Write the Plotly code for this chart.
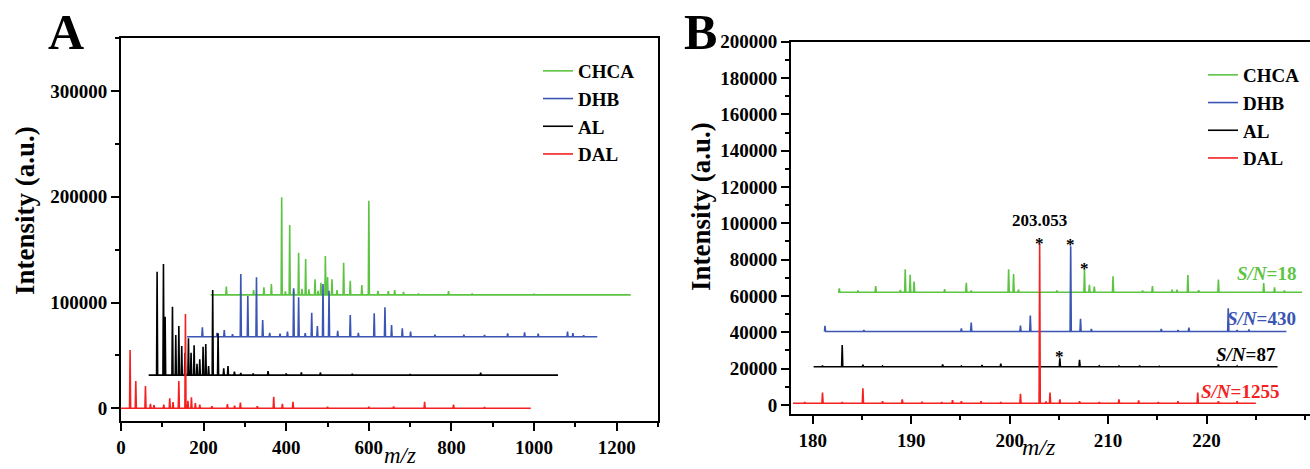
import numpy as np
import plotly.graph_objects as go

FONT = "Liberation Serif"

# ---------------- Panel A data (stacked spectra) ----------------
series_names = ["CHCA", "DHB", "AL", "DAL"]
colors = {"CHCA": "#5DC443", "DHB": "#3A55B3", "AL": "#000000", "DAL": "#F52020"}

a_baseline = {"CHCA": 107200, "DHB": 67600, "AL": 31400, "DAL": 0}
a_start = {"CHCA": 217, "DHB": 160, "AL": 67, "DAL": 0}
a_end = {"CHCA": 1234, "DHB": 1153, "AL": 1058, "DAL": 992}

a_chca_mz = [255, 290, 321, 346, 364, 389, 398, 408.4, 418, 430, 438, 447, 455, 469.7, 477,
             484, 494.8, 500, 510.8, 523, 539, 555, 583, 600, 622, 647, 662.5, 684, 720, 793, 850, 1000]
a_chca_int = [115000, 109500, 111800, 114300, 117400, 199400, 110500, 173200, 112000, 147000, 113000,
              141100, 112500, 121900, 111000, 118700, 143900, 124000, 121900, 111800, 137600, 120600,
              116500, 196200, 111100, 110800, 111800, 110000, 108500, 110800, 108400, 108300]

a_dhb_mz = [197, 232.5, 250, 270, 290, 307, 328, 343, 360, 385, 403, 418, 430, 446, 461.7, 475.4,
            489, 503.6, 524.6, 555, 574.6, 613, 639, 655, 681, 701, 760, 830, 880, 936, 977, 1010,
            1081, 1094, 1120]
a_dhb_int = [76500, 71400, 74000, 70000, 126900, 106100, 123800, 83400, 71400, 70500, 72400, 113400,
             104900, 71000, 90300, 77800, 117500, 111100, 73300, 88200, 71400, 89800, 95400, 78700,
             75600, 72400, 69500, 69500, 69300, 70800, 71700, 70500, 72600, 71000, 69000]

a_al_mz = [87.4, 102.8, 106.8, 124.6, 132.6, 140, 147, 155, 163.3, 169.6, 177, 184, 190.7, 198.7,
           205.2, 212, 222, 235, 248.7, 259, 274.6, 290, 320, 356, 400, 436.7, 482.7, 560, 700, 870.7]
a_al_int = [129100, 136400, 86600, 96000, 69300, 77800, 58900, 52500, 66200, 52500, 59500, 42000,
            46300, 58200, 60800, 40000, 111800, 70900, 37800, 40000, 34600, 33500, 33000, 35200, 33000,
            34000, 33800, 32500, 32300, 33600]

a_dal_mz = [22, 35.8, 59.2, 71.3, 80, 103.6, 118, 126, 140, 156, 162, 170.5, 180, 190.7, 220, 257.6,
            275, 289, 330, 369.7, 390.7, 416.4, 500, 600, 660, 735, 805, 880]
a_dal_int = [55100, 25800, 21100, 4100, 3000, 3500, 9400, 6000, 25800, 89100, 7000, 10400, 5000,
             3500, 2000, 4000, 2500, 5300, 2000, 11000, 4200, 6200, 1500, 1500, 1800, 6200, 3500, 1200]

a_peaks = {"CHCA": (a_chca_mz, a_chca_int), "DHB": (a_dhb_mz, a_dhb_int),
           "AL": (a_al_mz, a_al_int), "DAL": (a_dal_mz, a_dal_int)}

a_xticks = [0, 200, 400, 600, 800, 1000, 1200]
a_yticks = [0, 100000, 200000, 300000]

# ---------------- Panel B data (zoom 178-230) ----------------
b_baseline = {"CHCA": 62000, "DHB": 40400, "AL": 21000, "DAL": 900}
b_start = {"CHCA": 182.6, "DHB": 181.2, "AL": 180.1, "DAL": 178.0}
b_end = {"CHCA": 229.7, "DHB": 228.1, "AL": 227.2, "DAL": 225.0}

b_chca_mz = [182.7, 184.6, 186.4, 188.9, 189.4, 189.9, 190.3, 193.4, 195.6, 196.1, 199.9, 200.4,
             200.9, 204.8, 207.6, 208.1, 208.6, 210.5, 213.5, 214.5, 216.5, 217.0, 218.1, 219.2,
             221.2, 225.8, 226.9, 227.9]
b_chca_int = [64200, 63000, 65500, 63300, 74700, 71600, 67900, 63700, 67300, 63000, 74700, 72100,
              63500, 63000, 74700, 66100, 65100, 70800, 63000, 65500, 63500, 63500, 71500, 63200,
              69000, 67100, 64800, 63000]

b_dhb_mz = [181.25, 185.2, 195.1, 196.1, 201.1, 202.1, 206.2, 207.2, 208.3, 215.4, 217.1, 218.2,
            222.2, 223.1, 224.3]
b_dhb_int = [43500, 41300, 42200, 45300, 43700, 49200, 87300, 47400, 41800, 41800, 41300, 42600,
             53200, 41300, 41500]

b_al_mz = [181.0, 183.0, 185.1, 187.1, 189.1, 191.1, 193.2, 195.1, 197.2, 199.1, 201.1, 203.1,
           205.1, 207.1, 209.1, 211.1, 213.2, 215.2, 217.2, 219.1, 221.2, 223.1, 225.2]
b_al_int = [21600, 33000, 22200, 21400, 21300, 21300, 22300, 21400, 22000, 22700, 21400, 21400,
            25700, 24800, 21500, 21400, 21600, 21300, 21300, 21400, 22300, 21400, 21400]

b_dal_mz = [179.2, 181.0, 183.0, 185.1, 187.1, 189.1, 191.1, 193.1, 194.2, 195.1, 197.1, 199.1,
            201.1, 203.05, 203.7, 204.1, 205.1, 207.1, 209.1, 211.1, 213.1, 215.1, 217.1, 219.1,
            221.2, 223.1]
b_dal_int = [1600, 6800, 1500, 9200, 2100, 3000, 1700, 1600, 2600, 2100, 2100, 1600, 6100, 88600,
             1900, 6800, 3000, 2100, 1600, 3000, 2500, 1600, 2100, 6800, 2100, 2100]

b_peaks = {"CHCA": (b_chca_mz, b_chca_int), "DHB": (b_dhb_mz, b_dhb_int),
           "AL": (b_al_mz, b_al_int), "DAL": (b_dal_mz, b_dal_int)}

b_xticks = [180, 190, 200, 210, 220]
b_yticks = list(range(0, 200001, 20000))

# annotations of panel B
b_sn_labels = {"CHCA": "18", "DHB": "430", "AL": "87", "DAL": "1255"}
b_sn_x = {"CHCA": 229.3, "DHB": 229.3, "AL": 227.3, "DAL": 227.6}
b_sn_y = {"CHCA": 72600, "DHB": 47700, "AL": 27800, "DAL": 7300}
b_star_mz = [203.05, 206.2, 207.6, 205.1]
b_star_y = [90800, 90200, 76500, 28300]
b_peak_label = "203.053"
b_peak_label_mz = 203.0
b_peak_label_y = 101800


def sticks(start, end, base, mz, inten, hw):
    order = np.argsort(mz)
    xs, ys = [start], [base]
    for i in order:
        xs += [mz[i] - hw, mz[i], mz[i] + hw]
        ys += [base, inten[i], base]
    xs.append(end)
    ys.append(base)
    return xs, ys


fig = go.Figure()

for name in series_names:
    mz, it = a_peaks[name]
    xs, ys = sticks(a_start[name], a_end[name], a_baseline[name], mz, it, 1.3)
    fig.add_trace(go.Scatter(x=xs, y=ys, mode="lines", name="<b>" + name + "</b>", legend="legend",
                             line=dict(color=colors[name], width=1.6),
                             xaxis="x", yaxis="y", hoverinfo="skip"))

for name in series_names:
    mz, it = b_peaks[name]
    xs, ys = sticks(b_start[name], b_end[name], b_baseline[name], mz, it, 0.06)
    fig.add_trace(go.Scatter(x=xs, y=ys, mode="lines", name="<b>" + name + "</b>", legend="legend2",
                             line=dict(color=colors[name], width=1.6),
                             xaxis="x2", yaxis="y2", hoverinfo="skip"))

W, H = 1310, 469
tickfont = dict(family=FONT, size=19, color="black", weight="bold")
axis_common = dict(showgrid=False, zeroline=False, showline=True, linewidth=2, linecolor="black",
                   ticks="outside", ticklen=8, tickwidth=2, tickcolor="black", tickfont=tickfont)
legend_font = dict(family=FONT, size=19, color="black")

fig.update_layout(
    width=W, height=H,
    margin=dict(l=0, r=0, t=0, b=0, autoexpand=False),
    paper_bgcolor="white", plot_bgcolor="white",
    xaxis=dict(domain=[121 / W, 658 / W], range=[0, 1300], tickvals=a_xticks, mirror=True,
               minor=dict(dtick=100, ticklen=4, tickwidth=2, tickcolor="black", ticks="outside"),
               anchor="y", **axis_common),
    yaxis=dict(domain=[1 - 421 / H, 1 - 38 / H], range=[-12000, 350000], tickvals=a_yticks,
               tickformat="d", mirror=True,
               minor=dict(dtick=50000, ticklen=4, tickwidth=2, tickcolor="black", ticks="outside"),
               anchor="x", **axis_common),
    xaxis2=dict(domain=[791 / W, 1.0], range=[177.8, 230.5], tickvals=b_xticks, mirror=True,
                minor=dict(dtick=5, ticklen=4, tickwidth=2, tickcolor="black", ticks="outside"),
                anchor="y2", **axis_common),
    yaxis2=dict(domain=[1 - 414 / H, 1 - 41.7 / H], range=[-5000, 200000], tickvals=b_yticks,
                tickformat="d", mirror=False,
                minor=dict(dtick=10000, ticklen=4, tickwidth=2, tickcolor="black", ticks="outside"),
                anchor="x2", **axis_common),
    legend=dict(x=538 / W, y=1 - 52 / H, xanchor="left", yanchor="top", bgcolor="rgba(0,0,0,0)",
                font=legend_font, borderwidth=0, tracegroupgap=0),
    legend2=dict(x=1203 / W, y=1 - 56 / H, xanchor="left", yanchor="top", bgcolor="rgba(0,0,0,0)",
                 font=legend_font, borderwidth=0, tracegroupgap=0),
)

ann = []
C = dict(xanchor="center", yanchor="middle", showarrow=False)
# panel letters
ann.append(dict(text="<b>A</b>", x=66 / W, y=1 - 32 / H, xref="paper", yref="paper",
                font=dict(family=FONT, size=50, color="black"), **C))
ann.append(dict(text="<b>B</b>", x=700 / W, y=1 - 32 / H, xref="paper", yref="paper",
                font=dict(family=FONT, size=50, color="black"), **C))
# axis titles
for (xp, yp) in [(25, 211), (701, 207)]:
    ann.append(dict(text="<b>Intensity (a.u.)</b>", x=xp / W, y=1 - yp / H, xref="paper", yref="paper",
                    textangle=-90, font=dict(family=FONT, size=27, color="black"), **C))
for (xp, yp, fs) in [(400, 455, 23), (1039, 447, 24)]:
    ann.append(dict(text="<i>m/z</i>", x=xp / W, y=1 - yp / H, xref="paper", yref="paper",
                    font=dict(family=FONT, size=fs, color="black"), **C))
# panel B labels
ann.append(dict(text="<b>" + b_peak_label + "</b>", x=b_peak_label_mz, y=b_peak_label_y, xref="x2", yref="y2",
                font=dict(family=FONT, size=17, color="black"), **C))
for mzv, yv in zip(b_star_mz, b_star_y):
    ann.append(dict(text="<b>*</b>", x=mzv, y=yv, xref="x2", yref="y2", yshift=-3,
                    font=dict(family=FONT, size=17, color="black"), **C))
for name in series_names:
    ann.append(dict(text="<b><i>S/N</i>=" + b_sn_labels[name] + "</b>", x=b_sn_x[name], y=b_sn_y[name],
                    xref="x2", yref="y2", xanchor="right", yanchor="middle", showarrow=False,
                    font=dict(family=FONT, size=19, color=colors[name])))
fig.update_layout(annotations=ann)

fig.write_html("out.html", config={"displayModeBar": False},
               post_script="document.body.style.margin='0px';document.body.style.padding='0px';")
